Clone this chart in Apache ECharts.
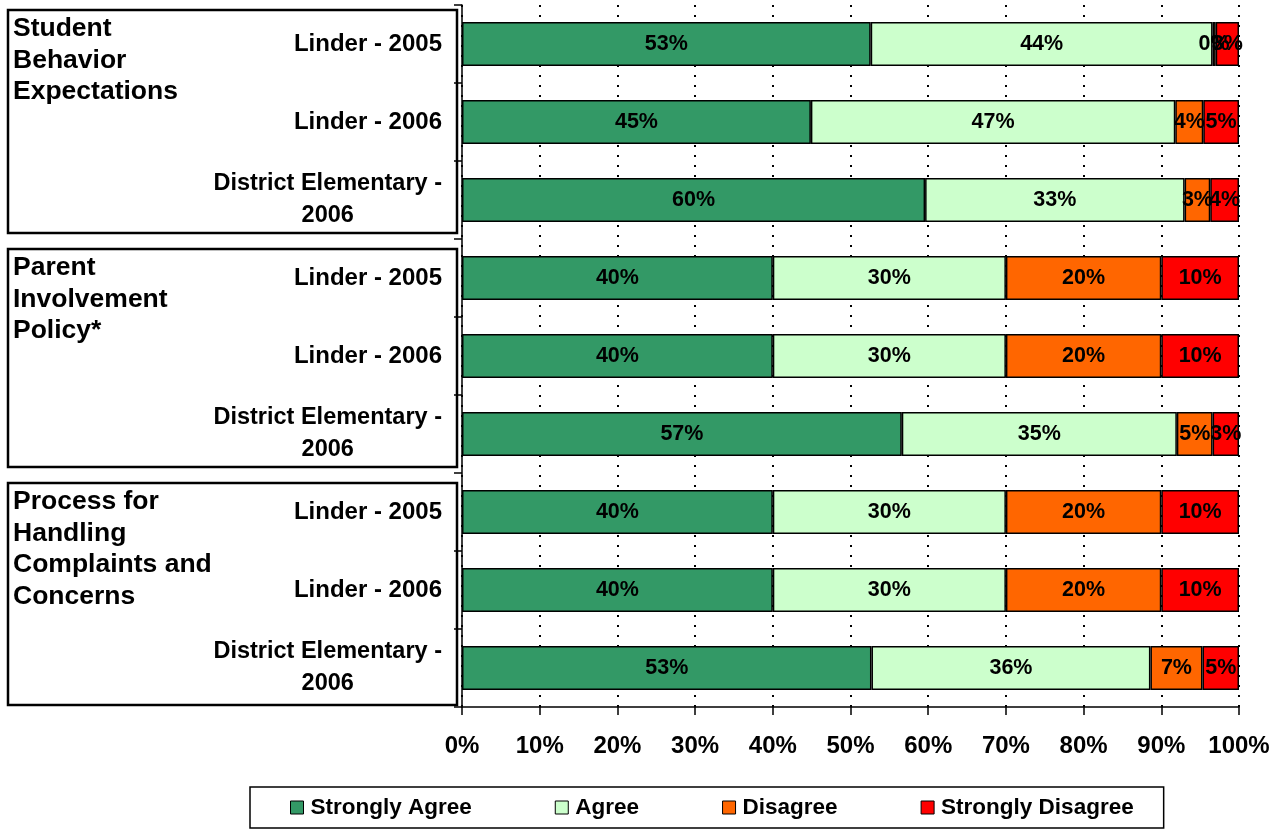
<!DOCTYPE html>
<html lang="en" style="height: 100%">
<head>
    <meta charset="utf-8">
    <script type="text/javascript" src="https://fastly.jsdelivr.net/npm/echarts@6/dist/echarts.min.js"></script>
</head>
<body style="height: 100%; margin: 0; background: #fff">
<div id="container" style="width: 1281px; height: 831px"></div>
<script type="text/javascript">
    // rows, top to bottom
    var categories = [
        'Linder - 2005', 'Linder - 2006', 'District Elementary -\n2006',
        'Linder - 2005', 'Linder - 2006', 'District Elementary -\n2006',
        'Linder - 2005', 'Linder - 2006', 'District Elementary -\n2006'
    ];
    // each group covers three rows
    var groups = [
        'Student\nBehavior\nExpectations',
        'Parent\nInvolvement\nPolicy*',
        'Process for\nHandling\nComplaints and\nConcerns'
    ];
    var seriesNames = ['Strongly Agree', 'Agree', 'Disagree', 'Strongly Disagree'];
    var stronglyAgree    = [52.6, 44.9, 59.6, 40, 40, 56.6, 40, 40, 52.7];
    var agree            = [44.0, 46.9, 33.4, 30, 30, 35.4, 30, 30, 35.9];
    var disagree         = [0.4, 3.6, 3.3, 20, 20, 4.6, 20, 20, 6.7];
    var stronglyDisagree = [3.0, 4.6, 3.7, 10, 10, 3.4, 10, 10, 4.7];
    var colors = ['#339966', '#CCFFCC', '#FF6600', '#FF0000'];

    var font = '"Liberation Sans", Arial, sans-serif';

    var dom = document.getElementById('container');
    var myChart = echarts.init(dom, null, {renderer: 'canvas'});

    function makeSeries(name, data, i) {
        return {
            name: name,
            type: 'bar',
            stack: 'total',
            barWidth: 44,
            data: data,
            itemStyle: {color: colors[i], borderColor: '#000', borderWidth: 1.5},
            label: {
                show: true,
                position: 'inside',
                color: '#000',
                fontFamily: font,
                fontWeight: 'bold',
                fontSize: 21.5,
                formatter: function (p) { return Math.round(p.value) + '%'; }
            }
        };
    }

    var option = {
        animation: false,
        textStyle: {fontFamily: font},
        grid: {left: 462, right: 42, top: 5, bottom: 124},
        legend: {
            left: 250,
            top: 787,
            padding: [9, 30, 9, 40],
            itemGap: 83,
            itemWidth: 13,
            itemHeight: 13,
            icon: 'rect',
            borderColor: '#000',
            borderWidth: 1.5,
            itemStyle: {borderColor: '#000', borderWidth: 1},
            textStyle: {fontFamily: font, fontWeight: 'bold', fontSize: 22.5, color: '#000', padding: [0, 0, 0, 2]},
            data: seriesNames
        },
        xAxis: {
            type: 'value',
            min: 0,
            max: 100,
            interval: 10,
            axisLine: {show: true, lineStyle: {color: '#000', width: 1.5}},
            axisTick: {show: true, length: 8, lineStyle: {color: '#000', width: 1.5}},
            axisLabel: {
                color: '#000', fontWeight: 'bold', fontSize: 24, margin: 27,
                formatter: function (v) { return v + '%'; }
            },
            splitLine: {show: true, lineStyle: {color: '#000', width: 2, type: [2, 8]}}
        },
        yAxis: {
            type: 'category',
            inverse: true,
            data: categories,
            axisLine: {show: true, lineStyle: {color: '#000', width: 1.5}},
            axisTick: {show: true, length: 8, lineStyle: {color: '#000', width: 1.5}},
            axisLabel: {
                color: '#000', fontWeight: 'bold', fontSize: 24, margin: 20,
                formatter: function (v) {
                    if (v.indexOf('\n') < 0) return v;
                    return v.split('\n').map(function (s) { return '{c|' + s + '}'; }).join('\n');
                },
                rich: {
                    c: {align: 'center', fontWeight: 'bold', fontSize: 23.5, lineHeight: 32, color: '#000'}
                }
            }
        },
        series: [
            makeSeries(seriesNames[0], stronglyAgree, 0),
            makeSeries(seriesNames[1], agree, 1),
            makeSeries(seriesNames[2], disagree, 2),
            makeSeries(seriesNames[3], stronglyDisagree, 3)
        ]
    };
    myChart.setOption(option);

    // group boxes placed from the category bands
    var graphics = [];
    for (var g = 0; g < groups.length; g++) {
        var yFirst = myChart.convertToPixel({yAxisIndex: 0}, g * 3);
        var yLast = myChart.convertToPixel({yAxisIndex: 0}, g * 3 + 2);
        var halfBand = (yLast - yFirst) / 4;
        var boxTop = yFirst - halfBand + (g === 0 ? 5 : 10);
        var boxBottom = yLast + halfBand - (g === 2 ? 2 : 6);
        graphics.push({
            type: 'rect',
            shape: {x: 8, y: boxTop, width: 449, height: boxBottom - boxTop},
            style: {fill: 'none', stroke: '#000', lineWidth: 2.5}
        });
        graphics.push({
            type: 'text',
            x: 13,
            y: boxTop + 3,
            style: {
                text: groups[g],
                font: 'bold 26.5px ' + font,
                lineHeight: 31.5,
                fill: '#000'
            }
        });
    }
    myChart.setOption({graphic: graphics});

    window.addEventListener('resize', myChart.resize);
</script>
</body>
</html>
